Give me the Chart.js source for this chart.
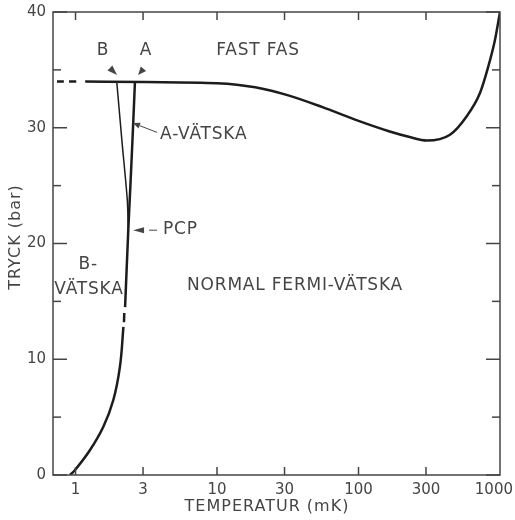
<!DOCTYPE html>
<html>
<head>
<meta charset="utf-8">
<script src="https://cdn.jsdelivr.net/npm/chart.js@4.4.1/dist/chart.umd.min.js"></script>
<style>
  html, body { margin: 0; padding: 0; background: #fff; }
</style>
</head>
<body>
<canvas id="chart" width="515" height="520"></canvas>
<script>
// temperatures in mK, pressures in bar (He-3 phase diagram)
const xTicks = [1, 3, 10, 30, 100, 300, 1000];

// melting curve (dashed part at the lowest temperatures)
const meltDashT = [0.74, 1.08];
const meltDashP = [34.0, 34.0];
const meltT = [1.17, 3.1, 10, 18.6, 31.9, 55.1, 94.5, 164, 230, 303, 443, 582, 722, 827, 922, 1000];
const meltP = [34.0, 33.95, 33.85, 33.5, 32.8, 31.8, 30.7, 29.7, 29.2, 28.9, 29.4, 31.0, 33.0, 35.3, 37.6, 40];

// superfluid transition, normal -> B, below the PCP
const tcLowT = [0.914, 0.992, 1.266, 1.572, 1.85, 2.06, 2.18];
const tcLowP = [0, 0.43, 2.16, 4.17, 6.48, 9.36, 12.8];
const tcDashT = [2.20, 2.21];
const tcDashP = [13.2, 14.0];

// normal -> A line, up to the melting curve
const aLineT = [2.24, 2.36, 2.44, 2.55, 2.63];
const aLineP = [14.5, 21.2, 24.9, 30.1, 34.0];

// A -> B line
const bLineT = [2.36, 2.32, 2.13, 1.955];
const bLineP = [21.2, 23.8, 28.8, 34.0];

const notes = [
  { text: 'B', t: 1.56, p: 36.7, align: 'center' },
  { text: 'A', t: 3.15, p: 36.7, align: 'center' },
  { text: 'FAST FAS', t: 19.5, p: 36.7, align: 'center' },
  { text: 'A-VÄTSKA', t: 3.96, p: 29.4, align: 'left' },
  { text: 'PCP', t: 4.15, p: 21.2, align: 'left' },
  { text: 'B-', t: 1.23, p: 18.2, align: 'center' },
  { text: 'VÄTSKA', t: 1.245, p: 16.0, align: 'center' },
  { text: 'NORMAL FERMI-VÄTSKA', t: 35.6, p: 16.4, align: 'center' }
];

// shaft: 'none' (head only), 'line', 'dash'
const arrows = [
  { from: [1.75, 35.16], to: [1.965, 34.56], shaft: 'none' },
  { from: [3.02, 35.1], to: [2.77, 34.56], shaft: 'none' },
  { from: [3.77, 29.6], to: [2.55, 30.4], shaft: 'line' },
  { from: [3.77, 21.15], to: [2.55, 21.15], shaft: 'dash' }
];

const pts = (xs, ys) => xs.map((v, i) => ({ x: v, y: ys[i] }));
const ink = '#1c1c1c';
const grey = '#454545';

function line(ctx, x1, y1, x2, y2) {
  ctx.beginPath();
  ctx.moveTo(x1, y1);
  ctx.lineTo(x2, y2);
  ctx.stroke();
}

const decor = {
  id: 'decor',
  afterDraw(chart) {
    const { ctx, chartArea: a, scales: { x, y } } = chart;
    ctx.save();
    ctx.strokeStyle = grey;
    ctx.lineWidth = 1.5;
    ctx.strokeRect(a.left, a.top, a.right - a.left, a.bottom - a.top);

    // inward ticks
    for (let v = 0; v <= 40; v += 5) {
      const py = y.getPixelForValue(v);
      const len = v % 10 === 0 ? 14 : 8;
      line(ctx, a.left, py, a.left + len, py);
      line(ctx, a.right, py, a.right - len, py);
    }
    ctx.fillStyle = grey;
    ctx.font = '15px "DejaVu Sans"';
    ctx.textAlign = 'center';
    ctx.textBaseline = 'middle';
    xTicks.forEach(v => {
      const px = x.getPixelForValue(v);
      const label = String(v);
      const w = ctx.measureText(label).width;
      ctx.fillText(label, Math.min(px, chart.width - 2 - w / 2), a.bottom + 15);
      if (px > a.right - 2) return;
      line(ctx, px, a.bottom, px, a.bottom - 8);
      line(ctx, px, a.top, px, a.top + 8);
    });

    // axis titles
    ctx.font = '16px "DejaVu Sans"';
    ctx.letterSpacing = '1px';
    ctx.fillText('TEMPERATUR (mK)', 267, 507);
    ctx.save();
    ctx.translate(16, 237);
    ctx.rotate(-Math.PI / 2);
    ctx.fillText('TRYCK (bar)', 0, 0);
    ctx.restore();

    // labels in the plot
    ctx.font = '17px "DejaVu Sans"';
    ctx.letterSpacing = '0.8px';
    notes.forEach(n => {
      ctx.textAlign = n.align;
      ctx.fillText(n.text, x.getPixelForValue(n.t), y.getPixelForValue(n.p));
    });

    // pointers
    ctx.lineWidth = 1;
    arrows.forEach(ar => {
      const x1 = x.getPixelForValue(ar.from[0]), y1 = y.getPixelForValue(ar.from[1]);
      const x2 = x.getPixelForValue(ar.to[0]), y2 = y.getPixelForValue(ar.to[1]);
      const ang = Math.atan2(y2 - y1, x2 - x1);
      const c = Math.cos(ang), s = Math.sin(ang);
      const hl = ar.shaft === 'none' ? Math.hypot(x2 - x1, y2 - y1) : (ar.shaft === 'dash' ? 11 : 7);
      const hw = ar.shaft === 'none' ? 3.5 : 3;
      const hx = x2 - hl * c, hy = y2 - hl * s;
      if (ar.shaft === 'line') line(ctx, x1, y1, hx, hy);
      if (ar.shaft === 'dash') line(ctx, x1, y1, x1 + 8 * c, y1 + 8 * s);
      ctx.beginPath();
      ctx.moveTo(x2, y2);
      ctx.lineTo(hx + hw * s, hy - hw * c);
      ctx.lineTo(hx - hw * s, hy + hw * c);
      ctx.closePath();
      ctx.fill();
    });
    ctx.restore();
  }
};

new Chart(document.getElementById('chart'), {
  type: 'line',
  data: {
    datasets: [
      { data: pts(meltDashT, meltDashP), borderColor: ink, borderWidth: 2.5, borderDash: [7, 5] },
      { data: pts(meltT, meltP), borderColor: ink, borderWidth: 2.5, cubicInterpolationMode: 'monotone' },
      { data: pts(tcLowT, tcLowP), borderColor: ink, borderWidth: 2.5, tension: 0.4 },
      { data: pts(tcDashT, tcDashP), borderColor: ink, borderWidth: 2.5 },
      { data: pts(aLineT, aLineP), borderColor: ink, borderWidth: 2.5 },
      { data: pts(bLineT, bLineP), borderColor: ink, borderWidth: 1.5 }
    ]
  },
  options: {
    responsive: false,
    animation: false,
    layout: { padding: { top: 12, right: 15, bottom: 0, left: 0 } },
    elements: { point: { radius: 0 }, line: { tension: 0.3, fill: false } },
    plugins: { legend: { display: false }, tooltip: { enabled: false } },
    scales: {
      x: {
        type: 'logarithmic',
        min: 0.693,
        max: 1000,
        afterBuildTicks: s => { s.ticks = xTicks.map(v => ({ value: v })); },
        afterFit: s => { s.height = 45; s.paddingLeft = 0; s.paddingRight = 0; },
        grid: { display: false, drawTicks: false },
        border: { display: false },
        ticks: { display: false }
      },
      y: {
        min: 0,
        max: 40,
        afterFit: s => { s.width = 53; s.paddingTop = 0; s.paddingBottom = 0; },
        grid: { display: false, drawTicks: false },
        border: { display: false },
        ticks: { stepSize: 10, color: grey, font: { family: 'DejaVu Sans', size: 15 }, padding: 7 }
      }
    }
  },
  plugins: [decor]
});
</script>
</body>
</html>
